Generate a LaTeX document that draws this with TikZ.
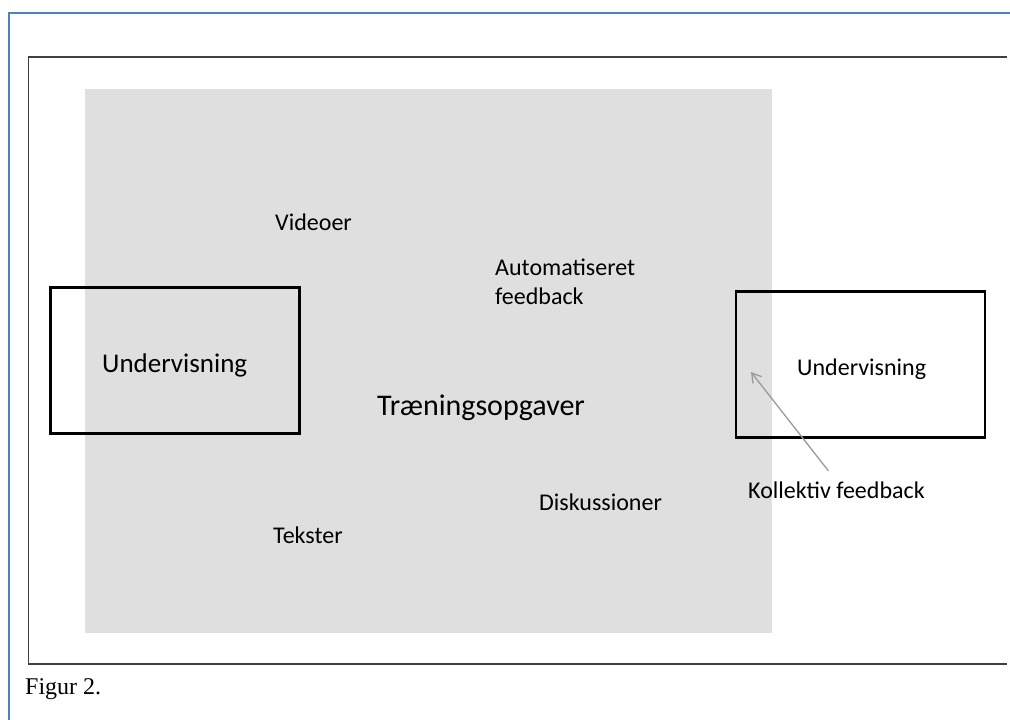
\documentclass[tikz,border=0pt]{standalone}
\usepackage{fontspec}
\setmainfont{Carlito}
\newfontfamily\figurfont{Liberation Serif}
\usetikzlibrary{arrows.meta}
\definecolor{rammeblaa}{HTML}{4F81BD}
\definecolor{baggrund}{HTML}{DFDFDF}
\definecolor{pilgraa}{HTML}{9A9A9A}

\begin{document}
\begin{tikzpicture}[x=1pt,y=-1pt,
        every node/.style={inner sep=0pt,font=\fontsize{24}{29}\selectfont},
        tekst/.style={anchor=base west,align=left},
        boks/.style={draw=black,line width=2.2pt,minimum width=249pt,minimum height=146pt}]
        \useasboundingbox (0,0) rectangle (1010,720);

        % rammer
        \draw[rammeblaa,line width=2.2pt] (1010,13) -- (9,13) -- (9,720);
        \draw[black!75,line width=1.5pt] (1007,57) -- (28.5,57) -- (28.5,664) -- (1007,664);
        \fill[baggrund] (85,89) rectangle (772,633);

        \node[boks] (venstreboks) at (175,360.5) {};
        \node[boks] (hoejreboks) at (860.5,364.5) {};
        \node[tekst,font=\fontsize{27}{32}\selectfont] (venstre) at (102,372) {Undervisning};
        \node[tekst] (hoejre) at (797,375) {Undervisning};

        \node[tekst] (videoer) at (275,230) {Videoer};
        \node[tekst] (auto) at (495,304) {Automatiseret\\feedback};
        \node[tekst,font=\fontsize{30}{36}\selectfont] (traening) at (377,415) {Træningsopgaver};
        \node[tekst] (disk) at (539,510) {Diskussioner};
        \node[tekst] (tekster) at (273,543) {Tekster};
        \node[tekst] (kollektiv) at (748,498) {Kollektiv feedback};
        \node[tekst,font=\figurfont\fontsize{24}{29}\selectfont] (figur) at (25,694) {Figur 2.};

        \coordinate (pilspids) at (751,372);
        \draw[pilgraa,line width=1.3pt,-{Straight Barb[length=9pt,width=11pt]},shorten <=13pt] (kollektiv.north) -- (pilspids);
    \end{tikzpicture}
\end{document}
